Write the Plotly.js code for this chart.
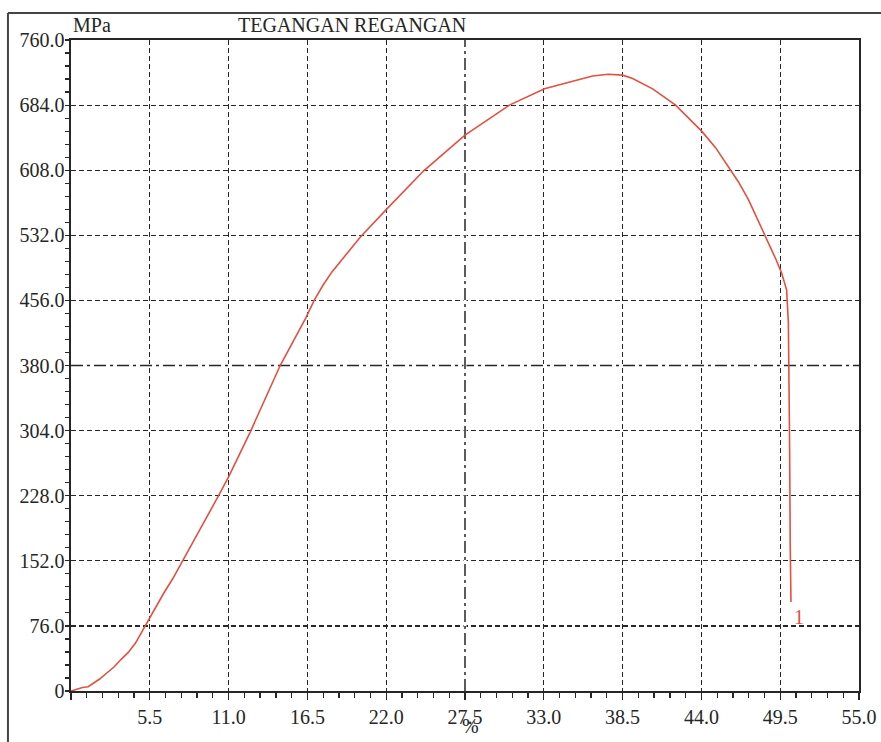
<!DOCTYPE html>
<html>
<head>
<meta charset="utf-8">
<script src="https://cdn.plot.ly/plotly-3.0.1.min.js"></script>
<style>html,body{margin:0;padding:0;background:#fff;}#chart{width:881px;height:742px;}</style>
</head>
<body>
<div id="chart"></div>
<script>
// ---- data ----
const strainPct = [0, 0.4, 0.8, 1.2, 1.6, 2.0, 2.5, 3.0, 3.5, 4.0, 4.5, 5.0, 5.5, 6.0, 6.5, 7.1, 7.8, 9.0, 10.3, 11.0, 12.5, 14.6, 15.5, 16.4, 17.0, 17.6, 18.2, 19.0, 20.2, 22.0, 24.6, 27.5, 30.6, 33.05, 35.5, 36.4, 37.5, 38.5, 39.2, 40.6, 42.2, 44.05, 45.0, 45.9, 46.6, 47.3, 48.0, 48.6, 49.2, 49.6, 49.95, 50.07, 50.12, 50.15, 50.2, 50.25];
const stressMPa = [0, 2, 4, 5, 9, 14, 21, 28, 37, 45, 56, 71, 85, 100, 115, 131, 152, 189, 228, 250, 302, 380, 408, 436, 457, 474, 489, 505, 530, 562, 607, 649, 684, 703, 714, 718, 720, 719, 715, 703, 684, 653, 634, 612, 594, 573, 548, 526, 504, 488, 468, 430, 380, 300, 170, 104];

const xTickVals = [0, 5.5, 11.0, 16.5, 22.0, 27.5, 33.0, 38.5, 44.0, 49.5, 55.0];
const xTickText = ["", "5.5", "11.0", "16.5", "22.0", "27.5", "33.0", "38.5", "44.0", "49.5", "55.0"];
const yTickVals = [0, 76, 152, 228, 304, 380, 456, 532, 608, 684, 760];
const yTickText = ["0", "76.0", "152.0", "228.0", "304.0", "380.0", "456.0", "532.0", "608.0", "684.0", "760.0"];

const chartTitle = "TEGANGAN REGANGAN";
const yUnit = "MPa";
const xUnit = "%";
const curveLabel = "1";

// ---- styling ----
const serif = "Liberation Serif, Times New Roman, serif";
const ink = "#262626";
const red = "#e4503f";
const gridDash = "5px,3px";

const midX = xTickVals[5];
const midY = yTickVals[5];
const xMax = xTickVals[xTickVals.length - 1];
const yMax = yTickVals[yTickVals.length - 1];

const trace = {
  x: strainPct, y: stressMPa, type: "scatter", mode: "lines",
  line: {color: red, width: 1.6}, hoverinfo: "skip", showlegend: false
};

const axisCommon = {
  showline: true, mirror: true, linecolor: ink, linewidth: 1.6,
  showgrid: true, gridcolor: ink, gridwidth: 1.2, griddash: gridDash,
  zeroline: false, tickmode: "array",
  tickfont: {family: serif, size: 20, color: ink},
  fixedrange: true
};

const layout = {
  width: 881, height: 742,
  margin: {l: 71, r: 22, t: 40, b: 51},
  paper_bgcolor: "#fff", plot_bgcolor: "#fff",
  showlegend: false,
  xaxis: Object.assign({}, axisCommon, {
    range: [0, xMax], tickvals: xTickVals, ticktext: xTickText,
    ticks: "outside", ticklen: 7, tickwidth: 1.3, tickcolor: ink,
    minor: {dtick: 1.1, tick0: 0, ticks: "outside", ticklen: 5, tickwidth: 1.3, tickcolor: ink, showgrid: false}
  }),
  yaxis: Object.assign({}, axisCommon, {
    range: [0, yMax], tickvals: yTickVals, ticktext: yTickText,
    ticks: "outside", ticklen: 1, tickwidth: 1, tickcolor: ink,
    minor: {dtick: 15.2, tick0: 0, ticks: "outside", ticklen: 4, tickwidth: 1.2, tickcolor: ink, showgrid: false}
  }),
  shapes: [
    // mask + dash-dot middle lines
    {type: "line", xref: "x", yref: "y", x0: 0, x1: xMax, y0: midY, y1: midY, layer: "between", line: {color: "#fff", width: 3}},
    {type: "line", xref: "x", yref: "y", x0: 0, x1: xMax, y0: midY, y1: midY, layer: "between", line: {color: ink, width: 1.5, dash: "12px,4px,3px,4px"}},
    {type: "line", xref: "x", yref: "y", x0: midX, x1: midX, y0: 0, y1: yMax, layer: "between", line: {color: "#fff", width: 3}},
    {type: "line", xref: "x", yref: "y", x0: midX, x1: midX, y0: 0, y1: yMax, layer: "between", line: {color: ink, width: 1.5, dash: "12px,4px,3px,4px"}},
    // outer frame (left and top edges)
    {type: "line", xref: "paper", yref: "paper", x0: -0.08, x1: -0.08, y0: -0.1, y1: 1.0415, line: {color: "#444", width: 2}},
    {type: "line", xref: "paper", yref: "paper", x0: -0.08, x1: 1.05, y0: 1.0415, y1: 1.0415, line: {color: "#444", width: 2}}
  ],
  annotations: [
    {text: chartTitle, xref: "paper", yref: "paper", x: 0.357, y: 1.0, xanchor: "center", yanchor: "bottom", yshift: 2,
     showarrow: false, font: {family: serif, size: 20, color: ink}},
    {text: yUnit, xref: "paper", yref: "paper", x: 0.0, y: 1.0, xanchor: "left", yanchor: "bottom", yshift: 2, xshift: 0,
     showarrow: false, font: {family: serif, size: 20, color: ink}},
    {text: xUnit, xref: "paper", yref: "paper", x: 0.507, y: 0, xanchor: "center", yanchor: "top", yshift: -22,
     showarrow: false, font: {family: serif, size: 20, color: ink}},
    {text: curveLabel, xref: "x", yref: "y", x: strainPct[strainPct.length - 1], y: stressMPa[stressMPa.length - 1],
     xanchor: "left", yanchor: "top", xshift: 1, yshift: -2, showarrow: false, font: {family: serif, size: 20, color: red}}
  ]
};

Plotly.newPlot("chart", [trace], layout, {staticPlot: true, displayModeBar: false});
</script>
</body>
</html>
